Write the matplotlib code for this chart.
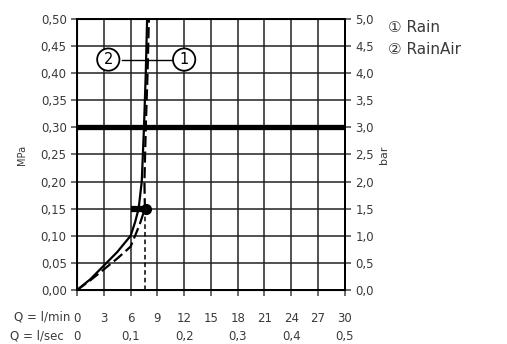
import matplotlib.pyplot as plt
from matplotlib.ticker import FuncFormatter
import numpy as np

# flow curves, Q in l/min, p in MPa
rain_q = [0, 1.5, 3, 4.5, 6, 6.5, 6.9, 7.25, 7.5, 7.7, 7.85]
rain_p = [0, 0.02, 0.045, 0.07, 0.10, 0.125, 0.15, 0.20, 0.30, 0.40, 0.50]
rainair_q = [0, 1.5, 3, 4.5, 6, 7.0, 7.6, 7.55, 7.7, 7.9, 8.05]
rainair_p = [0, 0.018, 0.038, 0.058, 0.08, 0.12, 0.15, 0.20, 0.30, 0.40, 0.50]

# operating point marker and recommended pressure
op_q = [6.1, 7.75]
op_p = 0.15
op_flow = 7.6
rec_p = 0.30

qmin_ticks = np.arange(0, 31, 3)
qsec_ticks = [0, 0.1, 0.2, 0.3, 0.4, 0.5]
mpa_ticks = np.arange(0, 0.51, 0.05)
bar_ticks = np.arange(0, 5.01, 0.5)

txt = '#3a3a3a'
plt.rcParams['font.family'] = ['DejaVu Sans', 'Noto Sans CJK JP']


def comma(fmt):
    return FuncFormatter(lambda v, pos: '0' if abs(v) < 1e-9 and fmt == 'sec'
                         else (f'{v:.1f}' if fmt in ('sec', 'bar') else f'{v:.2f}').replace('.', ','))


fig = plt.figure(figsize=(5.07, 3.44), dpi=100)
ax = fig.add_axes([0.152, 0.157, 0.528, 0.788])

ax.plot(rain_q, rain_p, color='black', lw=1.6, zorder=4)
ax.plot(rainair_q, rainair_p, color='black', lw=1.6, ls=(0, (5, 2)), zorder=4)
ax.axhline(rec_p, color='black', lw=3.8, zorder=3)
ax.plot(op_q, [op_p, op_p], color='black', lw=4.5, solid_capstyle='butt', zorder=5)
ax.plot(op_q[1], op_p, marker='o', ms=7, color='black', zorder=5)
ax.plot([op_flow, op_flow], [0, op_p], color='black', lw=1.1, ls=(0, (3, 2)), zorder=4)

# curve labels
circ = dict(boxstyle='circle,pad=0.25', fc='white', ec='black', lw=1.3)
ax.plot([5.0, 7.45], [0.425, 0.425], color='black', lw=1.0, zorder=3)
ax.plot([10.6, 8.0], [0.425, 0.425], color='black', lw=1.0, zorder=3)
ax.text(3.5, 0.425, '2', ha='center', va='center', fontsize=10.5, color='black',
        bbox=circ, zorder=6)
ax.text(12.0, 0.425, '1', ha='center', va='center', fontsize=10.5, color='black',
        bbox=circ, zorder=6)

ax.set(xlim=(0, 30), ylim=(0, 0.5))
ax.set_xticks(qmin_ticks)
ax.set_yticks(mpa_ticks)
ax.yaxis.set_major_formatter(comma('mpa'))
ax.grid(True, color='#222222', lw=1.1)
ax.set_axisbelow(True)
for s in ax.spines.values():
    s.set_linewidth(1.4)
ax.tick_params(axis='both', direction='out', length=4, width=1.1,
               labelsize=8.5, labelcolor=txt, color='#444444')
ax.tick_params(axis='x', pad=12)
ax.set_ylabel('MPa', fontsize=7, color=txt, labelpad=10)

# second flow scale in l/sec
sec = ax.secondary_xaxis('bottom', functions=(lambda q: q / 60, lambda s: s * 60))
sec.set_xticks(qsec_ticks)
sec.xaxis.set_major_formatter(comma('sec'))
sec.tick_params(length=0, pad=29, labelsize=8.5, labelcolor=txt)
sec.spines['bottom'].set_visible(False)

fig.text(0.138, 1 - 317 / 344, 'Q = l/min', ha='right', va='center',
         fontsize=8.5, color=txt)
fig.text(0.125, 1 - 336 / 344, 'Q = l/sec', ha='right', va='center',
         fontsize=8.5, color=txt)

# pressure in bar on the right
ax2 = ax.twinx()
ax2.set_ylim(0, 5)
ax2.set_yticks(bar_ticks)
ax2.yaxis.set_major_formatter(comma('bar'))
ax2.tick_params(direction='out', length=4, width=1.1, labelsize=8.5,
                labelcolor=txt, color='#444444')
ax2.spines['right'].set_linewidth(1.4)
ax2.set_ylabel('bar', fontsize=8, color=txt, labelpad=4)

fig.text(0.765, 1 - 28 / 344, '\u2460 Rain', ha='left', va='center',
         fontsize=11, color=txt)
fig.text(0.765, 1 - 50 / 344, '\u2461 RainAir', ha='left', va='center',
         fontsize=11, color=txt)

fig.savefig('out.png', dpi=100, facecolor='white')
